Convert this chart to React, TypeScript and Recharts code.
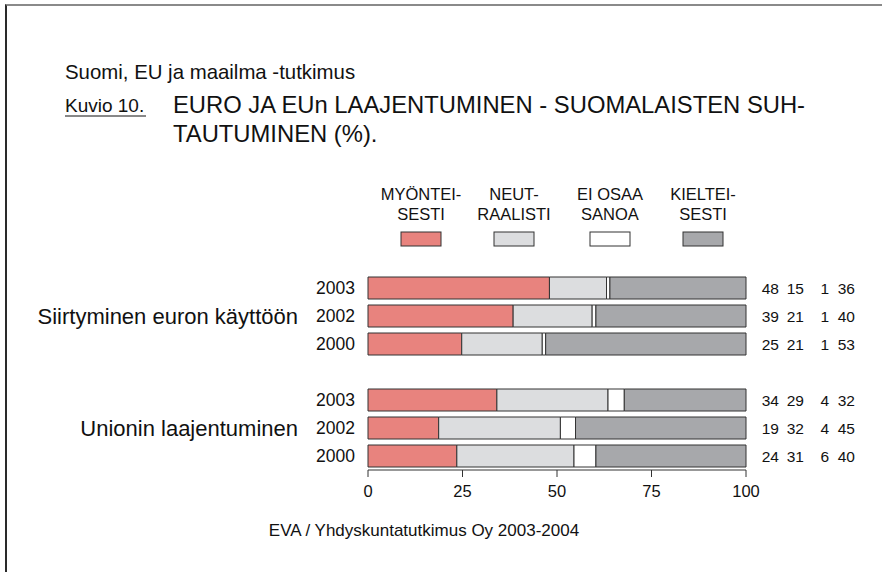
import React from "react";
import { BarChart, Bar, XAxis, YAxis } from "recharts";

// ---- data ----
const categories = ["2003", "2002", "2000", "", "2003", "2002", "2000"];
const groupLabels = ["Siirtyminen euron käyttöön", "Unionin laajentuminen"];
const groupLabelRows = [1, 5];

const positive = [48.0, 38.4, 24.8, null, 34.1, 18.7, 23.5];
const neutral = [15.1, 20.9, 21.3, null, 29.4, 32.2, 31.0];
const dontKnow = [0.9, 1.0, 0.9, null, 4.3, 4.0, 5.8];
const negative = [36.0, 39.7, 53.0, null, 32.2, 45.1, 39.7];

const positiveShown = [48, 39, 25, null, 34, 19, 24];
const neutralShown = [15, 21, 21, null, 29, 32, 31];
const dontKnowShown = [1, 1, 1, null, 4, 4, 6];
const negativeShown = [36, 40, 53, null, 32, 45, 40];

const xTicks = [0, 25, 50, 75, 100];

const seriesKeys = ["pos", "neu", "dk", "neg"];
const seriesNames = [
  ["MYÖNTEI-", "SESTI"],
  ["NEUT-", "RAALISTI"],
  ["EI OSAA", "SANOA"],
  ["KIELTEI-", "SESTI"],
];
const seriesColors = ["#E8837E", "#DCDDDF", "#FFFFFF", "#A7A8AB"];

const data = categories.map((c, i) => ({
  id: String(i),
  year: c,
  pos: positive[i],
  neu: neutral[i],
  dk: dontKnow[i],
  neg: negative[i],
}));

const shownCols = [positiveShown, neutralShown, dontKnowShown, negativeShown];

const FONT = "'Liberation Sans', Arial, Helvetica, sans-serif";

const YearTick = (props: any) => {
  const { x, y, payload } = props;
  const i = parseInt(payload.value, 10);
  const g = groupLabelRows.indexOf(i);
  return (
    <g>
      <text x={x} y={y} dy="0.36em" textAnchor="end" fontSize={17.5} fill="#111" fontFamily={FONT}>
        {categories[i]}
      </text>
      {g >= 0 && (
        <text x={x - 57} y={y} dy="0.36em" textAnchor="end" fontSize={22} fill="#111" fontFamily={FONT}>
          {groupLabels[g]}
        </text>
      )}
    </g>
  );
};

const ValuesTick = (props: any) => {
  const { x, y, payload } = props;
  const i = parseInt(payload.value, 10);
  if (positiveShown[i] == null) return null;
  const offs = [33, 58, 83, 109];
  return (
    <g>
      {shownCols.map((col, k) => (
        <text
          key={k}
          x={x + offs[k]}
          y={y}
          dy="0.36em"
          textAnchor="end"
          fontSize={15.5}
          fill="#111"
          fontFamily={FONT}
        >
          {col[i]}
        </text>
      ))}
    </g>
  );
};

const legendCenters = [421, 514, 610, 703];

export default function App() {
  return (
    <div
      style={{
        position: "absolute",
        left: 0,
        top: 0,
        width: 882,
        height: 572,
        background: "#fff",
        fontFamily: FONT,
      }}
    >
      <div
        style={{
          position: "absolute",
          left: 5,
          top: 4,
          width: 877,
          height: 568,
          borderTop: "2px solid #8a8a8a",
          borderLeft: "2px solid #2a2a2a",
          boxSizing: "border-box",
        }}
      />
      <div style={{ position: "absolute", left: 0, top: 0 }}>
        <BarChart
          width={882}
          height={572}
          data={data}
          layout="vertical"
          barCategoryGap={0}
          margin={{ top: 274, right: 16, bottom: 72, left: 308 }}
        >
          <XAxis
            type="number"
            domain={[0, 100]}
            ticks={xTicks}
            tickSize={7}
            tickMargin={8}
            axisLine={{ stroke: "#333" }}
            tickLine={{ stroke: "#333" }}
            tick={{ fontSize: 16.5, fill: "#111", fontFamily: FONT }}
            height={30}
          />
          <YAxis
            type="category"
            dataKey="id"
            width={60}
            axisLine={false}
            tickLine={false}
            tickMargin={7}
            interval={0}
            tick={<YearTick />}
          />
          <YAxis
            yAxisId="right"
            orientation="right"
            type="category"
            dataKey="id"
            width={120}
            axisLine={false}
            tickLine={false}
            tickSize={0}
            tickMargin={0}
            interval={0}
            tick={<ValuesTick />}
          />
          {seriesKeys.map((k, idx) => (
            <Bar
              key={k}
              dataKey={k}
              stackId="a"
              fill={seriesColors[idx]}
              stroke="#333"
              strokeWidth={1}
              barSize={22}
              isAnimationActive={false}
            />
          ))}
        </BarChart>
      </div>
      <svg
        width={882}
        height={572}
        style={{ position: "absolute", left: 0, top: 0, pointerEvents: "none" }}
        fontFamily={FONT}
      >
        <text x={65} y={79} fontSize={20.4} fill="#111">
          Suomi, EU ja maailma -tutkimus
        </text>
        <text x={65} y={112} fontSize={19} fill="#111">
          Kuvio 10.
        </text>
        <line x1={65} x2={146} y1={116} y2={116} stroke="#111" strokeWidth={1} />
        <text x={173} y={113} fontSize={23.8} fill="#111">
          EURO JA EUn LAAJENTUMINEN - SUOMALAISTEN SUH-
        </text>
        <text x={173} y={142} fontSize={23.8} fill="#111">
          TAUTUMINEN (%).
        </text>
        {seriesNames.map((lines, i) => (
          <g key={i}>
            <text x={legendCenters[i]} y={200} textAnchor="middle" fontSize={16.5} fill="#111">
              {lines[0]}
            </text>
            <text x={legendCenters[i]} y={220} textAnchor="middle" fontSize={16.5} fill="#111">
              {lines[1]}
            </text>
            <rect
              x={legendCenters[i] - 20}
              y={232}
              width={40}
              height={14}
              fill={seriesColors[i]}
              stroke="#333"
              strokeWidth={1}
            />
          </g>
        ))}
        <text x={424} y={536} textAnchor="middle" fontSize={17} fill="#111">
          EVA / Yhdyskuntatutkimus Oy 2003-2004
        </text>
      </svg>
    </div>
  );
}
